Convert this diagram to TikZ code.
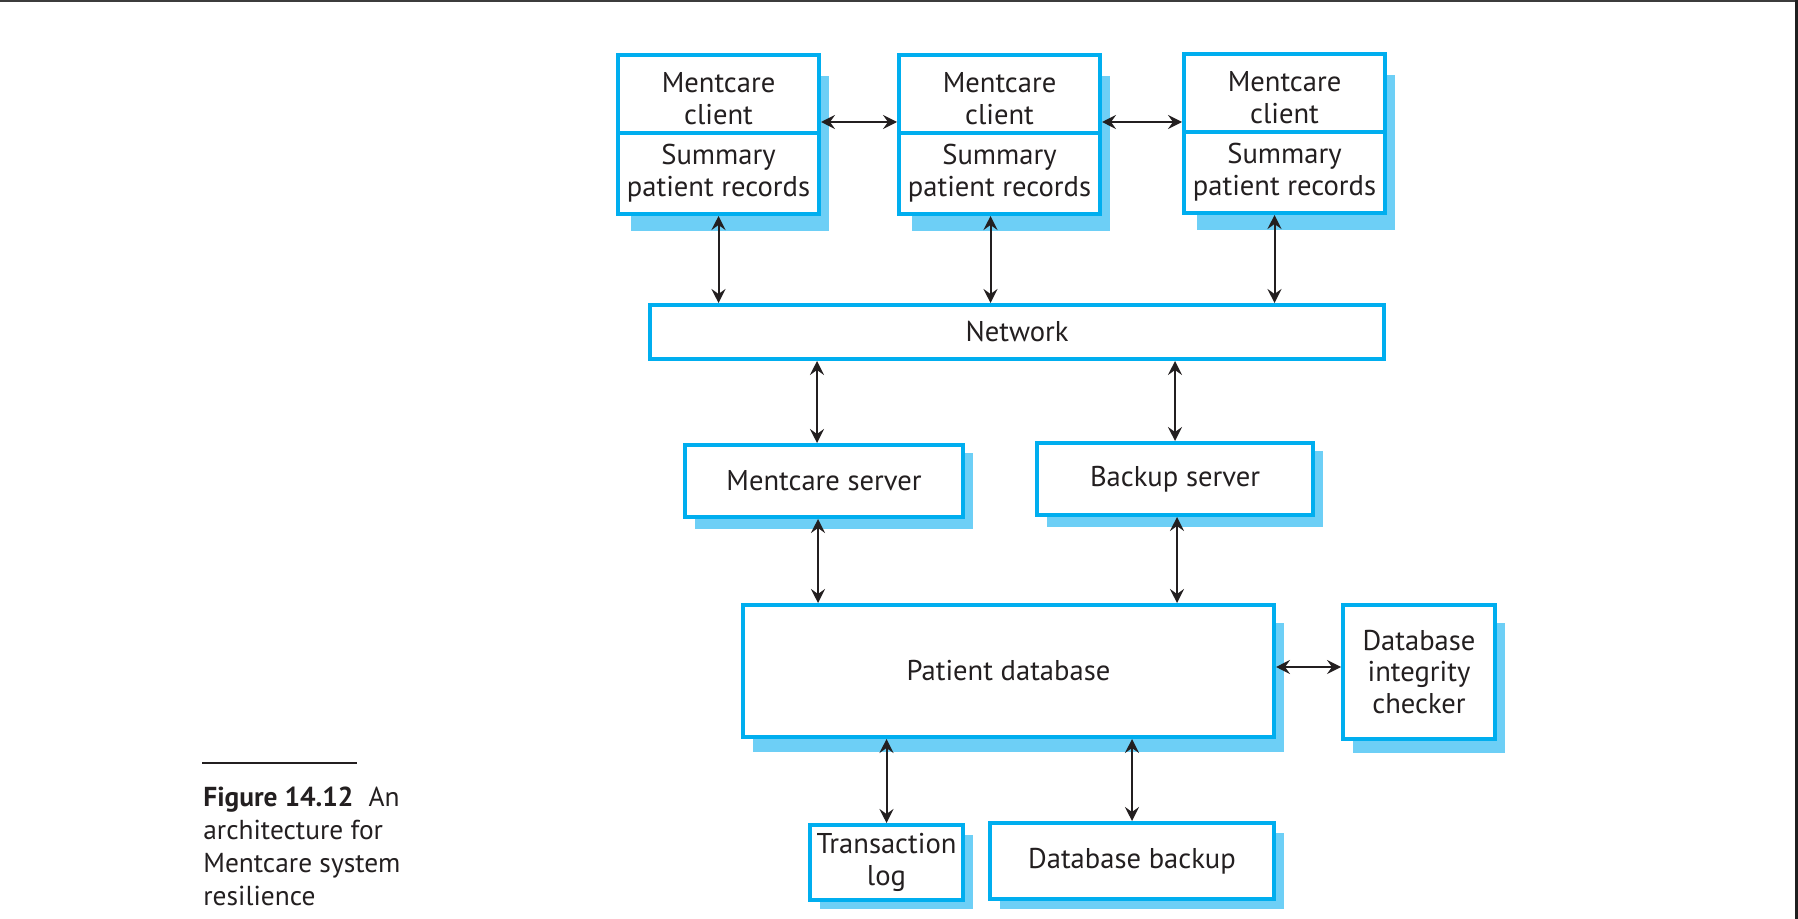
\documentclass[tikz,border=0pt]{standalone}
\usepackage{fontspec}
\setmainfont{PT Sans}
\usetikzlibrary{arrows.meta, positioning, calc}

\definecolor{boxblue}{RGB}{0,174,239}
\definecolor{shadeblue}{RGB}{109,207,246}
\definecolor{ink}{RGB}{35,31,32}
\definecolor{framegray}{RGB}{60,60,60}

\pgfdeclarelayer{background}
\pgfsetlayers{background,main}

\tikzset{
    blk/.style={draw=boxblue, line width=2pt, fill=white, inner sep=0pt,
        align=center, text=ink, font=\fontsize{14.3}{15.9}\selectfont},
    link/.style={<->, line width=1pt, draw=ink},
}

\begin{document}
\begin{tikzpicture}[x=0.5pt, y=-0.5pt, >={Stealth[length=7pt, width=7pt, inset=2.5pt]}]
    \useasboundingbox (0,0) rectangle (1798,919);

    % screen frame
    \fill[framegray] (0,0) rectangle (1795,2.5);
    \fill[black!88] (1795,0) rectangle (1798,919);

    % clients
    \node[blk, minimum width=100.5pt, minimum height=39pt] (cl1) at (718.5,94) {\\[-1.6pt]Mentcare\\client};
    \node[blk, minimum width=100.5pt, minimum height=40.5pt, below=-2pt of cl1] (rec1) {Summary\\patient records};
    \node[blk, minimum width=100.5pt, minimum height=39pt] (cl2) at (999.5,94) {\\[-1.6pt]Mentcare\\client};
    \node[blk, minimum width=100.5pt, minimum height=40.5pt, below=-2pt of cl2] (rec2) {Summary\\patient records};
    \node[blk, minimum width=100.5pt, minimum height=39pt] (cl3) at (1284.5,93) {\\[-1.6pt]Mentcare\\client};
    \node[blk, minimum width=100.5pt, minimum height=40.5pt, below=-2pt of cl3] (rec3) {Summary\\patient records};

    \node[blk, minimum width=367pt, minimum height=27pt] (net) at (1017,332) {Network};

    % servers
    \node[blk, minimum width=139pt, minimum height=36pt] (msrv) at (824,481) {Mentcare server};
    \node[blk, minimum width=138pt, minimum height=36pt] (bsrv) at (1175,479) {Backup server};

    % database and helpers
    \node[blk, minimum width=265.5pt, minimum height=66pt] (pdb) at (1008.5,671) {Patient database};
    \node[blk, minimum width=76pt, minimum height=67pt] (dic) at (1419,672) {Database\\integrity\\checker};
    \node[blk, minimum width=76.5pt, minimum height=37.5pt] (tlog) at (886.5,862.5) {Transaction\\log};
    \node[blk, minimum width=142pt, minimum height=38pt] (dbak) at (1132,861) {Database backup};

    \begin{pgfonlayer}{background}
        \foreach \a/\b in {cl1/rec1, cl2/rec2, cl3/rec3}
            \fill[shadeblue] ($(\a.north west)+(15,23)$) rectangle ($(\b.south east)+(8,15)$);
        \foreach \n/\t/\u in {msrv/10/10, bsrv/10/10, pdb/20/13, dic/20/12, tlog/12/7, dbak/12/8}
            \fill[shadeblue] ($(\n.north west)+(12,\t)$) rectangle ($(\n.south east)+(8,\u)$);
    \end{pgfonlayer}

    % links
    \draw[link] ([yshift=-14pt]cl1.east) -- ([yshift=-14pt]cl1.east -| cl2.west);
    \draw[link] ([yshift=-14pt]cl2.east) -- ([yshift=-14pt]cl2.east -| cl3.west);
    \draw[link] (rec1.south) -- (rec1.south |- net.north);
    \draw[link] ($(rec2.south)+(-9,0)$) -- ($(rec2.south |- net.north)+(-9,0)$);
    \draw[link] ($(rec3.south)+(-10,0)$) -- ($(rec3.south |- net.north)+(-10,0)$);
    \draw[link] ($(msrv.north)+(-7,0)$) -- ($(msrv.north |- net.south)+(-7,0)$);
    \draw[link] (bsrv.north) -- (bsrv.north |- net.south);
    \draw[link] ($(msrv.south)+(-6,0)$) -- ($(msrv.south |- pdb.north)+(-6,0)$);
    \draw[link] ($(bsrv.south)+(2,0)$) -- ($(bsrv.south |- pdb.north)+(2,0)$);
    \draw[link] ([yshift=2pt]pdb.east) -- ([yshift=2pt]pdb.east -| dic.west);
    \draw[link] (tlog.north) -- (tlog.north |- pdb.south);
    \draw[link] (dbak.north) -- (dbak.north |- pdb.south);

    % caption
    \draw[ink, line width=1.2pt] (202,763) -- (357,763);
    \node[anchor=north west, inner sep=0pt, align=left, text=ink, font=\fontsize{13.7}{16.5}\selectfont] (cap) at (203,787)
        {\textbf{Figure 14.12}\hspace{0.55em}An\\architecture for\\Mentcare system\\resilience};
\end{tikzpicture}
\end{document}
